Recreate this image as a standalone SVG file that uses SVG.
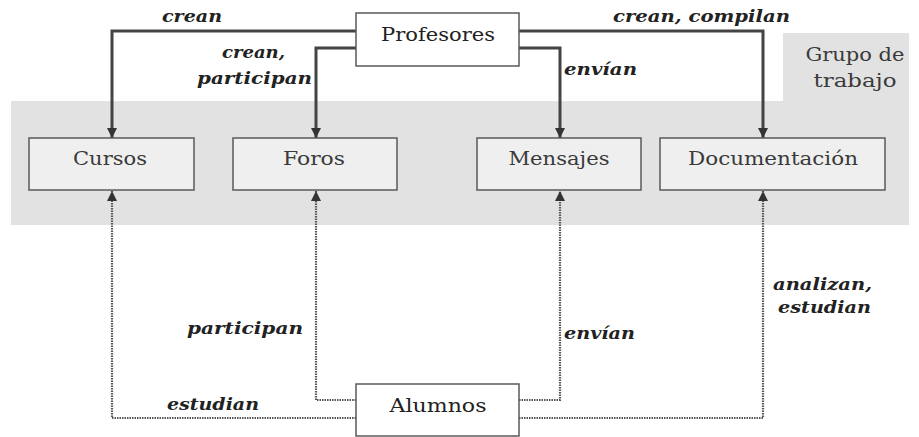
<svg xmlns="http://www.w3.org/2000/svg" width="919" height="437" viewBox="0 0 919 437">
<style>
.band{fill:#e2e2e2}
.node{fill:#efefef;stroke:#5a5a5a;stroke-width:1.5}
.actor{fill:#ffffff;stroke:#5a5a5a;stroke-width:1.5}
.nt{font-family:"DejaVu Serif","Liberation Serif",serif;font-size:18px;fill:#3a3a3a;text-anchor:middle}
.lbl{font-family:"DejaVu Serif","Liberation Serif",serif;font-size:16px;font-style:italic;font-weight:bold;fill:#222}
.solid{fill:none;stroke:#444;stroke-width:3}
.dot{fill:none;stroke:#555;stroke-width:2.2;stroke-dasharray:1.5 1}
</style>
<defs>
<marker id="ah" viewBox="0 0 10 10" refX="10" refY="5" markerWidth="10" markerHeight="10" markerUnits="userSpaceOnUse" orient="auto">
<path d="M0,0 L10,5 L0,10 z" fill="#333"/>
</marker>
</defs>
<rect class="band" x="11" y="101" width="898" height="124"/>
<g id="grupo">
<rect class="band" x="783" y="33" width="126" height="68"/>
<text class="nt" x="855" y="61" textLength="99" lengthAdjust="spacingAndGlyphs">Grupo de</text>
<text class="nt" x="855" y="87" textLength="83" lengthAdjust="spacingAndGlyphs">trabajo</text>
</g>
<g id="connectors">
<path class="solid" d="M356,31 H112 V138" marker-end="url(#ah)"/>
<path class="solid" d="M356,48 H316 V138" marker-end="url(#ah)"/>
<path class="solid" d="M519,48 H560 V138" marker-end="url(#ah)"/>
<path class="solid" d="M519,31 H763 V138" marker-end="url(#ah)"/>
<path class="dot" d="M356,418 H112 V191" marker-end="url(#ah)"/>
<path class="dot" d="M356,400 H316 V191" marker-end="url(#ah)"/>
<path class="dot" d="M519,400 H560 V191" marker-end="url(#ah)"/>
<path class="dot" d="M519,418 H763 V191" marker-end="url(#ah)"/>
<text class="lbl" x="162" y="22" textLength="60" lengthAdjust="spacingAndGlyphs">crean</text>
<text class="lbl" x="222" y="58" textLength="63" lengthAdjust="spacingAndGlyphs">crean,</text>
<text class="lbl" x="197" y="84" textLength="115" lengthAdjust="spacingAndGlyphs">participan</text>
<text class="lbl" x="613" y="22" textLength="177" lengthAdjust="spacingAndGlyphs">crean, compilan</text>
<text class="lbl" x="564" y="75" textLength="73" lengthAdjust="spacingAndGlyphs">envían</text>
<text class="lbl" x="187" y="334" textLength="116" lengthAdjust="spacingAndGlyphs">participan</text>
<text class="lbl" x="167" y="410" textLength="92" lengthAdjust="spacingAndGlyphs">estudian</text>
<text class="lbl" x="564" y="339" textLength="71" lengthAdjust="spacingAndGlyphs">envían</text>
<text class="lbl" x="773" y="290" textLength="99" lengthAdjust="spacingAndGlyphs">analizan,</text>
<text class="lbl" x="778" y="313" textLength="93" lengthAdjust="spacingAndGlyphs">estudian</text>
</g>
<g id="profesores">
<rect class="actor" x="356" y="13" width="163" height="53"/>
<text class="nt" x="438" y="41" textLength="114" lengthAdjust="spacingAndGlyphs" style="fill:#222">Profesores</text>
</g>
<g id="cursos">
<rect class="node" x="29" y="138" width="165" height="52"/>
<text class="nt" x="110" y="165" textLength="74" lengthAdjust="spacingAndGlyphs">Cursos</text>
</g>
<g id="foros">
<rect class="node" x="233" y="138" width="164" height="52"/>
<text class="nt" x="314" y="165" textLength="62" lengthAdjust="spacingAndGlyphs">Foros</text>
</g>
<g id="mensajes">
<rect class="node" x="477" y="138" width="164" height="52"/>
<text class="nt" x="559" y="165" textLength="101" lengthAdjust="spacingAndGlyphs">Mensajes</text>
</g>
<g id="documentacion">
<rect class="node" x="660" y="138" width="225" height="52"/>
<text class="nt" x="773" y="165" textLength="170" lengthAdjust="spacingAndGlyphs">Documentación</text>
</g>
<g id="alumnos">
<rect class="actor" x="356" y="384" width="163" height="52"/>
<text class="nt" x="438" y="412" textLength="97" lengthAdjust="spacingAndGlyphs" style="fill:#222">Alumnos</text>
</g>
</svg>
